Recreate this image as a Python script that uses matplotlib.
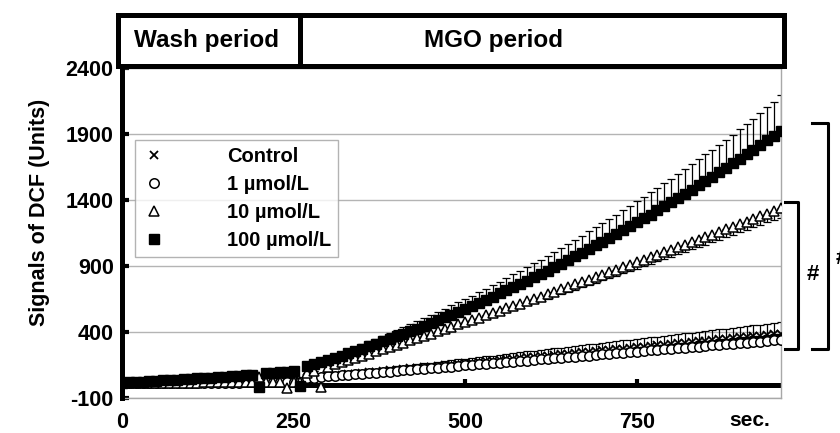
# coding = utf-8

"""
    DCF signal over time, wash period then MGO period
"""
import numpy as np
from matplotlib import pyplot as plt
from matplotlib.patches import Rectangle
import matplotlib.transforms as mtransforms

plt.rcParams['font.family'] = ['Liberation Sans', 'DejaVu Sans']
plt.rcParams['font.weight'] = 'bold'
plt.rcParams['axes.unicode_minus'] = False

# time points, one every 10 s (wash 0-260, MGO 270-960)
time = np.arange(0, 970, 10)
n_wash = 27

labels = ["Control", "1 µmol/L", "10 µmol/L", "100 µmol/L"]

control = [15, 15, 16, 16, 17, 17, 18, 18, 19, 19, 20, 20, 21, 21, 22, 22, 23, 23, 24, 24,
           25, 25, 26, 26, 27, 27, 28,
           50, 55, 60, 65, 70, 75, 79, 84, 89, 94,
           99, 104, 109, 114, 119, 124, 128, 133, 138, 143,
           148, 153, 158, 163, 168, 173, 177, 182, 187, 192,
           197, 202, 207, 212, 217, 222, 226, 231, 236, 241,
           246, 251, 256, 261, 266, 271, 275, 280, 285, 290,
           295, 300, 305, 310, 315, 320, 324, 329, 334, 339,
           344, 349, 354, 359, 364, 369, 373, 378, 383, 388]
control_err = [11, 12, 13, 14, 15, 17, 17, 18, 20, 21,
               22, 23, 24, 25, 26, 27, 28, 29, 30, 31,
               33, 34, 35, 36, 37, 38, 39, 40, 41, 42,
               43, 44, 46, 47, 48, 49, 50, 51, 52, 53,
               54, 55, 56, 57, 59, 60, 61, 62, 63, 64,
               65, 66, 67, 68, 69, 70, 71, 72, 73, 75,
               76, 77, 78, 79, 80, 81, 82, 83, 84, 85]

mgo_1 = [12, 12, 12, 13, 13, 13, 14, 14, 14, 15, 15, 15, 16, 16, 16, 17, 17, 17, 18, 18,
         18, 19, 19, 19, 20, 20, 20,
         50, 54, 58, 63, 67, 71, 75, 79, 84, 88,
         92, 96, 100, 105, 109, 113, 117, 121, 126, 130,
         134, 138, 142, 147, 151, 155, 159, 163, 168, 172,
         176, 180, 184, 189, 193, 197, 201, 205, 210, 214,
         218, 222, 226, 231, 235, 239, 243, 247, 252, 256,
         260, 264, 268, 273, 277, 281, 285, 289, 294, 298,
         302, 306, 310, 315, 319, 323, 327, 331, 336, 340]
mgo_1_err = [6, 6, 7, 8, 8, 9, 9, 9, 10, 11,
             11, 12, 12, 13, 13, 14, 14, 15, 15, 16,
             16, 17, 17, 18, 18, 19, 19, 20, 20, 21,
             21, 22, 22, 23, 23, 24, 24, 25, 25, 26,
             26, 27, 27, 28, 28, 29, 29, 30, 30, 31,
             31, 32, 32, 33, 33, 34, 34, 35, 35, 36,
             36, 37, 37, 38, 38, 39, 39, 40, 40, 41]

mgo_10 = [12, 12, 13, 13, 14, 14, 15, 15, 16, 16, 17, 17, 18, 18, 19, 19, 20, 20, 21, 21,
          60, 22, 23, 23, -25, 24, 20,
          90, 106, -20, 138, 154, 171, 187, 203, 220, 236,
          253, 270, 286, 303, 320, 337, 354, 371, 388, 405,
          422, 439, 457, 474, 491, 509, 526, 544, 562, 579,
          597, 615, 633, 651, 669, 687, 705, 723, 741, 760,
          778, 796, 815, 833, 852, 871, 889, 908, 927, 946,
          965, 984, 1003, 1022, 1041, 1061, 1080, 1099, 1119, 1138,
          1158, 1178, 1197, 1217, 1237, 1257, 1277, 1297, 1317, 1337]
mgo_10_err = [5, 5, 0, 7, 8, 9, 9, 10, 11, 12,
              13, 14, 14, 15, 16, 17, 18, 19, 19, 20,
              21, 22, 23, 24, 25, 25, 26, 27, 28, 29,
              30, 31, 32, 33, 33, 34, 35, 36, 37, 38,
              39, 40, 41, 42, 43, 44, 44, 45, 46, 47,
              48, 49, 50, 51, 52, 53, 54, 55, 56, 57,
              58, 59, 60, 61, 62, 63, 64, 65, 66, 70]

mgo_100 = [15, 18, 21, 24, 27, 30, 33, 36, 39, 42, 45, 48, 52, 55, 59, 62, 66, 70, 74, 78,
           -20, 86, 90, 95, 100, 105, -10,
           140, 156, 172, 188, 204, 221, 238, 256, 274, 292,
           310, 329, 348, 367, 386, 406, 426, 447, 468, 489,
           510, 532, 554, 576, 598, 621, 644, 668, 692, 716,
           740, 765, 790, 815, 840, 866, 892, 919, 946, 973,
           1000, 1028, 1056, 1084, 1112, 1141, 1170, 1200, 1230, 1260,
           1290, 1321, 1352, 1383, 1414, 1446, 1478, 1511, 1544, 1577,
           1610, 1644, 1678, 1712, 1746, 1781, 1816, 1852, 1888, 1924]
mgo_100_err = [18, 20, 22, 24, 27, 29, 31, 33, 36, 38,
               40, 43, 45, 48, 50, 53, 55, 58, 61, 64,
               66, 69, 72, 75, 78, 81, 84, 87, 90, 93,
               96, 99, 103, 106, 109, 113, 116, 119, 123, 126,
               130, 134, 137, 141, 145, 148, 152, 156, 160, 164,
               168, 172, 176, 180, 184, 188, 192, 196, 201, 205,
               209, 214, 218, 223, 227, 232, 240, 250, 258, 272]

fig = plt.figure(figsize=(8.4, 4.33), dpi=100)
ax = fig.add_axes([0.1452, 0.0808, 0.7845, 0.7621])

ax.set_xlim(0, 960)
ax.set_ylim(-100, 2400)

# 网格和边框
ax.set_yticks([-100, 400, 900, 1400, 1900, 2400])
ax.yaxis.grid(True, color='#b4b4b4', linewidth=1)
ax.set_axisbelow(True)
for s in ['top', 'right', 'bottom']:
    ax.spines[s].set_color('#a8a8a8')
    ax.spines[s].set_linewidth(1)
ax.spines['left'].set_linewidth(3.6)
ax.spines['left'].set_zorder(5)
ax.tick_params(axis='y', direction='in', length=5, width=3, labelsize=15.5, pad=6)
ax.set_xticks([0, 250, 500, 750])
ax.tick_params(axis='x', length=0, labelsize=15.5, pad=10)

# x axis drawn at y = 0
ax.axhline(0, color='black', linewidth=3.6, zorder=1)
ax.vlines([250, 500, 750], 0, 45, color='black', linewidth=3, zorder=1)

mgo = time[n_wash:]
zeros = np.zeros(len(mgo))

# Control
ax.plot(time, control, 'x', color='black', ms=6, mew=1.3, label=labels[0], zorder=3)
ax.errorbar(mgo, control[n_wash:], yerr=[zeros, control_err], fmt='none',
            ecolor='black', elinewidth=0.9, capsize=3, capthick=0.9, zorder=2)
# 1 umol/L
ax.plot(time, mgo_1, 'o', mfc='white', mec='black', ms=6.8, mew=1.1, label=labels[1], zorder=4)
ax.errorbar(mgo, mgo_1[n_wash:], yerr=[zeros, mgo_1_err], fmt='none',
            ecolor='black', elinewidth=0.9, capsize=3, capthick=0.9, zorder=2)
# 10 umol/L
ax.plot(time, mgo_10, '^', mfc='white', mec='black', ms=7.5, mew=1.1, label=labels[2], zorder=4)
ax.errorbar(mgo, mgo_10[n_wash:], yerr=[mgo_10_err, zeros], fmt='none',
            ecolor='black', elinewidth=0.9, capsize=3, capthick=0.9, zorder=2)
# 100 umol/L
ax.plot(time, mgo_100, 's', color='black', ms=6.8, label=labels[3], zorder=4)
ax.errorbar(mgo, mgo_100[n_wash:], yerr=[zeros, mgo_100_err], fmt='none',
            ecolor='black', elinewidth=0.9, capsize=3, capthick=0.9, zorder=2)

leg = ax.legend(loc='upper left', bbox_to_anchor=(0.02, 0.782), borderaxespad=0,
                frameon=True, fancybox=False, edgecolor='#a0a0a0',
                handlelength=1.2, handletextpad=3.0, labelspacing=0.45,
                borderpad=0.35, prop={'weight': 'bold', 'size': 14.5})
leg.get_frame().set_linewidth(1)

# period boxes on top
fig.patches.append(Rectangle((118 / 840, 1 - 66 / 433), (300 - 118) / 840, 51 / 433,
                             transform=fig.transFigure, fill=False, edgecolor='black', linewidth=3.6))
fig.patches.append(Rectangle((300 / 840, 1 - 66 / 433), (784 - 300) / 840, 51 / 433,
                             transform=fig.transFigure, fill=False, edgecolor='black', linewidth=3.6))
fig.text(207 / 840, 1 - 41 / 433, 'Wash period', ha='center', va='center', fontsize=17.5, fontweight='bold')
fig.text(493 / 840, 1 - 41 / 433, 'MGO period', ha='center', va='center', fontsize=17.5, fontweight='bold')

# y label and x unit
fig.text(40 / 840, 1 - 212 / 433, 'Signals of DCF (Units)', rotation=90, ha='center', va='center',
         fontsize=15.5, fontweight='bold')
fig.text(750 / 840, 1 - 421 / 433, 'sec.', ha='center', va='center', fontsize=15, fontweight='bold')

# significance brackets
tr = mtransforms.blended_transform_factory(ax.transAxes, ax.transData)
ax.plot([1.006, 1.026, 1.026, 1.006], [1385, 1385, 271, 271], color='black', lw=2.2,
        transform=tr, clip_on=False)
ax.plot([1.047, 1.071, 1.071, 1.047], [1983, 1983, 271, 271], color='black', lw=2.2,
        transform=tr, clip_on=False)
ax.text(1.049, 832, '#', transform=tr, ha='center', va='center', fontsize=16, fontweight='bold')
ax.text(1.083, 960, '#', transform=tr, ha='left', va='center', fontsize=16, fontweight='bold')

plt.savefig('out.png', dpi=100)
